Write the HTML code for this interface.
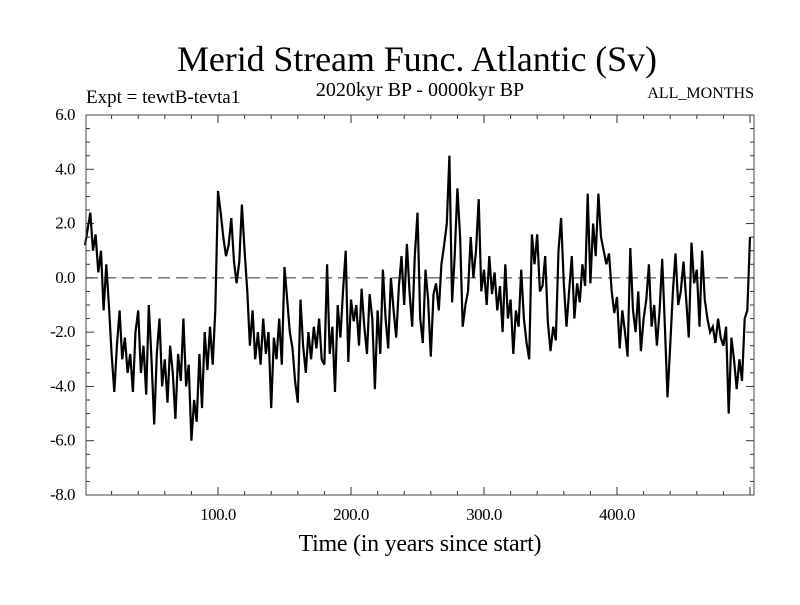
<!DOCTYPE html>
<html><head><meta charset="utf-8"><style>
body{margin:0;background:#fff}
svg text{font-family:"Liberation Serif",serif;fill:#000}
</style></head><body>
<svg id="c" width="800" height="600" viewBox="0 0 800 600" xmlns="http://www.w3.org/2000/svg">
<text x="417" y="71" font-size="36" text-anchor="middle" textLength="480">Merid Stream Func. Atlantic (Sv)</text>
<text x="86" y="103" font-size="19">Expt = tewtB-tevta1</text>
<text x="420" y="96" font-size="20" text-anchor="middle">2020kyr BP - 0000kyr BP</text>
<text x="754" y="98" font-size="16" text-anchor="end">ALL_MONTHS</text>
<text x="420" y="551" font-size="24" text-anchor="middle" textLength="243">Time (in years since start)</text>
<g id="axes"></g>
<path id="line" fill="none" stroke="#000" stroke-width="2.2"/>
<rect x="86" y="115" width="668" height="380" fill="none" stroke="#444" stroke-width="1"/>
</svg>
<script>
const yTicks=[6,4,2,0,-2,-4,-6,-8];
const yTickLabels=["6.0","4.0","2.0","0.0","-2.0","-4.0","-6.0","-8.0"];
const xTicks=[100,200,300,400];
const xTickLabels=["100.0","200.0","300.0","400.0"];
const tStart=0, tStep=2;
const values=[
1.2,1.8,2.4,1.0,1.6,0.2,1.0,-1.2,0.5,-1.0,
-2.8,-4.2,-2.5,-1.2,-3.0,-2.2,-3.5,-2.8,-4.2,-2.0,
-1.2,-3.5,-2.5,-4.3,-1.0,-3.0,-5.4,-2.8,-1.5,-4.0,
-3.0,-4.6,-2.5,-3.5,-5.2,-2.8,-3.8,-1.5,-4.0,-3.2,
-6.0,-4.5,-5.3,-2.8,-4.8,-2.0,-3.4,-1.8,-3.2,-1.2,
3.2,2.4,1.5,0.8,1.2,2.2,0.6,-0.2,0.6,2.7,
1.0,-0.5,-2.5,-1.2,-3.0,-2.0,-3.2,-1.5,-2.8,-2.0,
-4.8,-2.2,-3.0,-1.5,-3.2,0.4,-0.8,-2.0,-2.6,-3.8,
-4.6,-0.8,-2.5,-3.5,-2.0,-3.0,-1.8,-2.6,-1.5,-3.0,
-3.2,0.5,-2.8,-1.8,-4.2,-1.0,-2.2,-0.5,1.0,-3.1,
-0.8,-1.6,-1.0,-2.5,-0.4,-1.8,-2.8,-0.6,-1.5,-4.1,
-1.2,-2.8,0.3,-1.5,-2.6,0.0,-1.2,-2.2,-0.3,0.8,
-1.0,1.25,-0.5,-1.8,0.8,2.4,-1.5,-2.4,0.3,-0.8,
-2.9,-0.6,-0.2,-1.2,0.5,1.2,2.0,4.5,-0.9,0.8,
3.3,1.5,-1.8,-1.0,-0.5,1.5,0.0,1.0,2.9,-0.5,
0.3,-1.0,0.8,-0.6,0.2,-1.2,-0.3,-2.0,0.5,-1.5,
-0.8,-2.8,-1.2,-1.8,0.3,-1.5,-2.4,-3.0,1.6,0.5,
1.6,-0.5,-0.3,0.8,-1.6,-2.7,-1.8,-2.3,1.0,2.2,
-0.2,-1.8,-0.5,0.8,-1.5,-0.2,-0.9,0.5,-0.3,3.1,
-0.2,2.0,0.8,3.1,1.5,1.0,0.5,0.9,-0.5,-1.3,
-0.7,-2.6,-1.2,-2.0,-2.9,1.1,-1.2,-2.0,-0.5,-2.7,
-1.5,-0.8,0.5,-1.8,-1.0,-2.5,-1.2,0.7,-1.8,-4.4,
-2.5,-0.5,0.9,-1.0,-0.5,0.6,-0.8,-2.2,1.3,-0.2,
0.3,-1.8,1.0,-0.8,-1.5,-2.0,-1.8,-2.4,-1.5,-2.2,
-2.5,-1.8,-5.0,-2.2,-3.0,-4.1,-3.0,-3.8,-1.5,-1.2,
1.5];
const X0=86,X1=754,Y0=115,Y1=495,xmin=0.75,xmax=503,ymin=-8,ymax=6;
const xs=t=>X0+(t-xmin)/(xmax-xmin)*(X1-X0);
const ys=v=>Y1-(v-ymin)/(ymax-ymin)*(Y1-Y0);
const NS="http://www.w3.org/2000/svg";
const g=document.getElementById('axes');
function mk(tag,a){const e=document.createElementNS(NS,tag);for(const k in a)e.setAttribute(k,a[k]);g.appendChild(e);return e;}
for(let v=ymin;v<=ymax+1e-9;v+=0.5){
  const major=Math.abs(v%2)<1e-9;const L=major?8:4;const y=ys(v);
  const a=mk('line',{x1:X0,x2:X0+L,y1:y,y2:y,stroke:'#333'});
  
  
  const b=mk('line',{x1:X1,x2:X1-L,y1:y,y2:y,stroke:'#333'});
  
  
}
yTicks.forEach((v,i)=>{
  const t=mk('text',{x:X0-11,y:ys(v)+5,'font-size':17,'text-anchor':'end','letter-spacing':'-0.5'});
  t.textContent=yTickLabels[i];
  
  
});
for(let t=20;t<xmax;t+=20){
  const major=t%100===0;const L=major?8:4;const x=xs(t);
  const a=mk('line',{x1:x,x2:x,y1:Y1,y2:Y1-L,stroke:'#333'});
  
  
  const b=mk('line',{x1:x,x2:x,y1:Y0,y2:Y0+L,stroke:'#333'});
  
  
}
xTicks.forEach((v,i)=>{
  const t=mk('text',{x:xs(v),y:Y1+25,'font-size':17,'text-anchor':'middle','letter-spacing':'-0.5'});
  t.textContent=xTickLabels[i];
  
  
});
const z=mk('line',{x1:X0,x2:X1,y1:ys(0),y2:ys(0),stroke:'#333','stroke-dasharray':'12,6'});


let d='';
values.forEach((v,i)=>{const t=tStart+i*tStep;d+=(i?'L':'M')+xs(t).toFixed(1)+' '+ys(v).toFixed(1);});
document.getElementById('line').setAttribute('d',d);
</script>
</body></html>
